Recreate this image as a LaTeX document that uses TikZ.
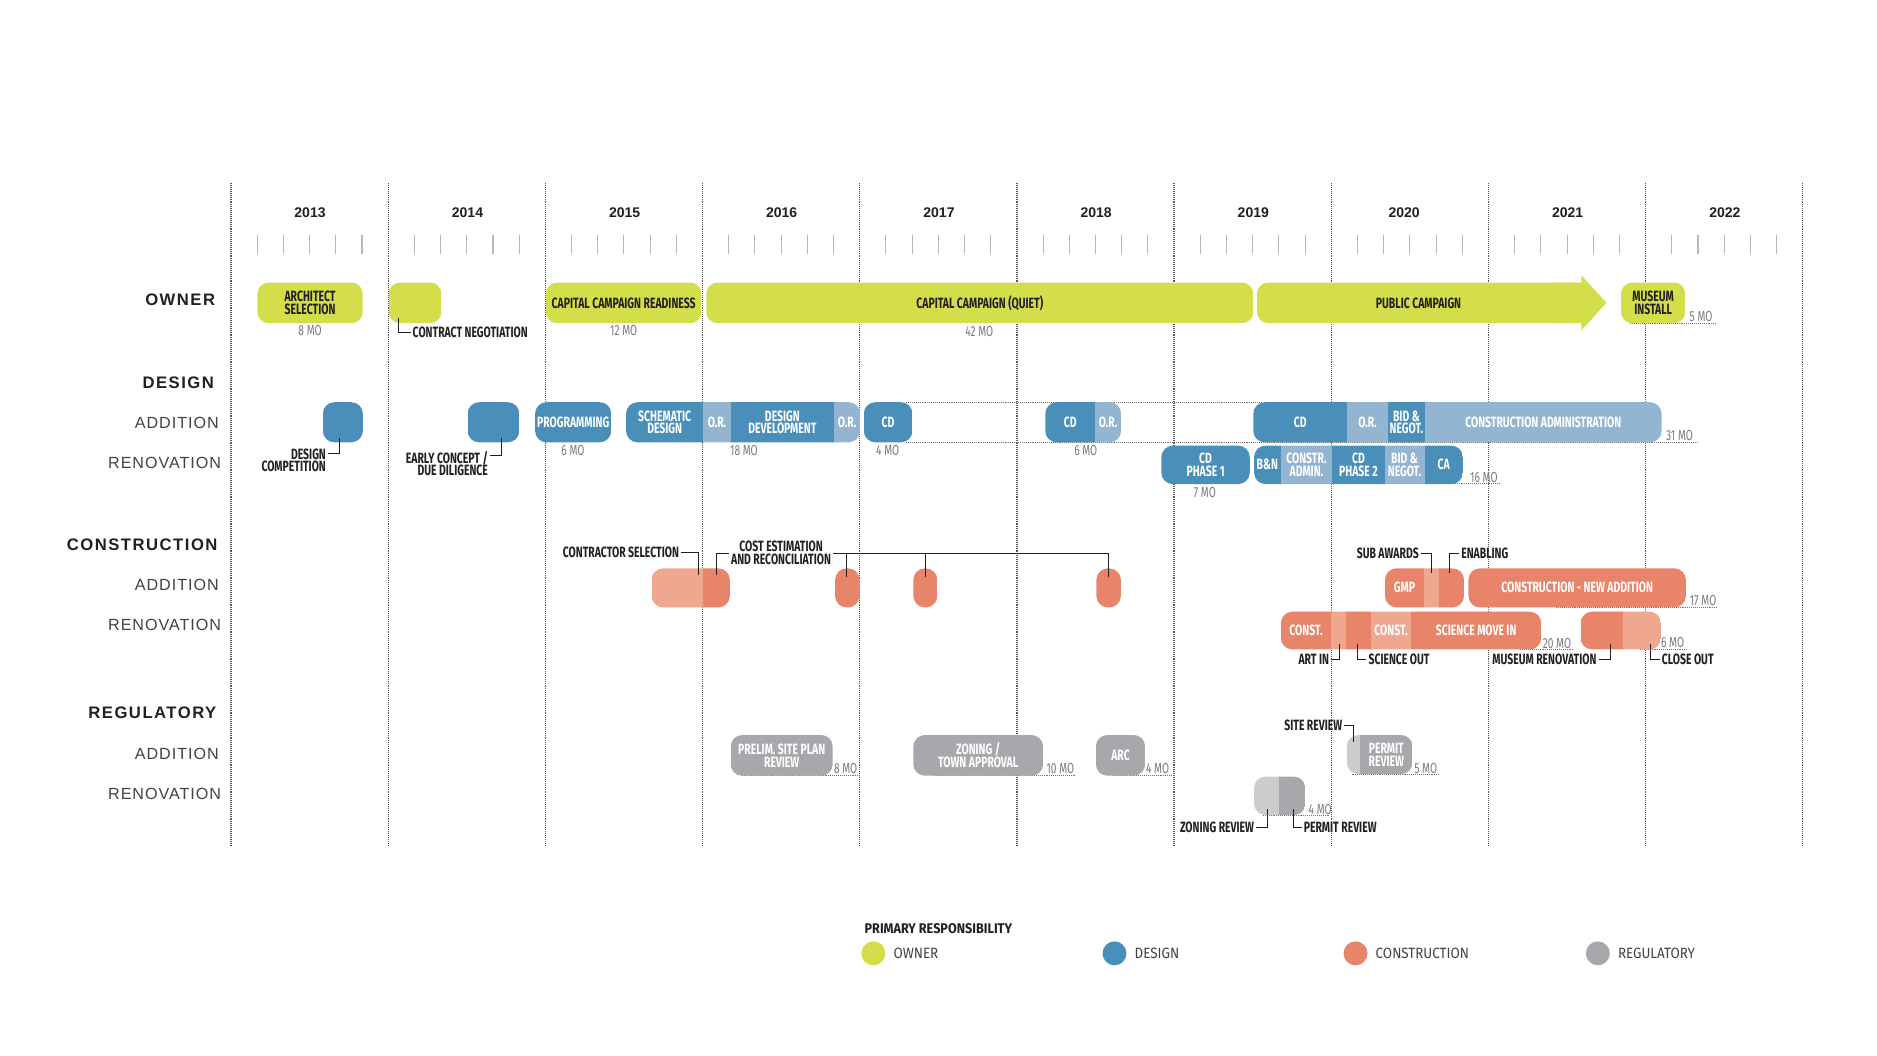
\documentclass[tikz,border=0pt]{standalone}
\usepackage{fontspec}
\setmainfont{Liberation Sans}
\newfontfamily\cnd[FakeStretch=0.7]{Fira Sans}
\newfontfamily\lgd[FakeStretch=0.9]{Fira Sans}
\usetikzlibrary{positioning,calc}
\definecolor{ink}{HTML}{231F20}
\definecolor{own}{HTML}{D3DE4A}
\definecolor{dsg}{HTML}{4A8FBA}
\definecolor{dsgl}{HTML}{93B5D2}
\definecolor{con}{HTML}{E8846A}
\definecolor{conl}{HTML}{F0A790}
\definecolor{reg}{HTML}{A6A8AB}
\definecolor{regl}{HTML}{CACCCE}
\definecolor{mogray}{HTML}{7A7A7A}
\newcommand{\barf}{\cnd\bfseries\fontsize{8.5}{7.3}\selectfont}
\newcommand{\mof}{\cnd\fontsize{8.3}{8}\selectfont}
\newcommand{\headf}{\bfseries\fontsize{9.5}{10}\selectfont\addfontfeature{LetterSpace=9}}
\newcommand{\rowf}{\fontsize{9.2}{10}\selectfont\addfontfeature{LetterSpace=6}}
\newcommand{\yearf}{\bfseries\fontsize{8}{9}\selectfont}
% one bar segment: name, x from, x to, y centre, style, text
\newcommand{\seg}[6]{\node[seg, #5, minimum width={(#3-#2)*0.24mm}] (#1) at ({(#2+#3)/2},#4) {#6};}

\begin{document}
\begin{tikzpicture}[x=0.24mm, y=-0.24mm,
  yline/.style={draw=black!65, line width=0.7pt, dash pattern=on 0.55pt off 0.55pt},
  mtick/.style={draw=black!28, line width=0.6pt},
  rail/.style={draw=black!55, line width=0.6pt, dash pattern=on 0.5pt off 0.6pt},
  seg/.style={inner sep=0pt, minimum height=40*0.24mm, text=white, align=center, font=\barf},
  call/.style={font=\barf, text=ink, inner sep=1pt},
  lead/.style={draw=ink, line width=0.6pt},
  mo/.style={font=\mof, text=mogray, inner sep=0pt},
  grouplbl/.style={font=\headf, text=ink, anchor=east, inner sep=0pt},
  rowlbl/.style={font=\rowf, text=ink!85, anchor=east, inner sep=0pt},
  swatch/.style={circle, minimum size=20*0.24mm, inner sep=0pt},
  keytxt/.style={font=\lgd\fontsize{8.5}{9}\selectfont, text=ink!85, inner sep=0pt},
]
\fill[white] (0,0) rectangle (1568,882);
\useasboundingbox (0,0) rectangle (1568,882);
% -- years, grid and ticks
\foreach \k in {0,...,10}
  \draw[yline] ({193+131.3*\k},153) -- ({193+131.3*\k},706);
\foreach \k in {0,...,9}
  \foreach \j in {1,...,5}
    \draw[mtick] ({193+131.3*\k+21.88*\j},196) -- ++(0,16);
\foreach \yr/\xc in {2013/259,2014/390.5,2015/521.8,2016/653,2017/784.4,2018/915.7,2019/1047,2020/1173,2021/1309.6,2022/1440.9}
  \node[font=\yearf, text=ink] (y\yr) at (\xc,178) {\yr};
% -- row labels
\node[grouplbl] (gown) at (180,250) {OWNER};
\node[grouplbl] (gdsg) at (179,320) {DESIGN};
\node[rowlbl] (dadd) at (183,353) {ADDITION};
\node[rowlbl] (dren) at (185,387) {RENOVATION};
\node[grouplbl] (gcon) at (182,455) {CONSTRUCTION};
\node[rowlbl] (cadd) at (183,489) {ADDITION};
\node[rowlbl] (cren) at (185,522) {RENOVATION};
\node[grouplbl] (greg) at (181,595) {REGULATORY};
\node[rowlbl] (radd) at (183,630) {ADDITION};
\node[rowlbl] (rren) at (185,663) {RENOVATION};
% -- dotted rails and month underlines
\draw[rail] (757,336) -- (1054,336);
\draw[rail] (757,369.5) -- (1418,369.5);
\draw[rail] (1059,404) -- (1252.6,404);
\draw[rail] (1362,270) -- (1434,270);
\draw[rail] (1300,507.4) -- (1434,507.4);
\draw[rail] (1270,542.5) -- (1314,542.5);
\draw[rail] (1370,542.5) -- (1410,542.5);
\draw[rail] (619.5,648) -- (718.7,648);
\draw[rail] (780,648) -- (897.7,648);
\draw[rail] (930,648) -- (980,648);
\draw[rail] (1129,646.6) -- (1203,646.6);
\draw[rail] (1055,680.9) -- (1111,680.9);
% -- owner
\begin{scope}
  \clip[rounded corners=2.3mm] (215,236) rectangle (303,270) (324.6,236) rectangle (368.8,270)
    (456,236) rectangle (586,270) (590,236) rectangle (1047,270) (1354,236) rectangle (1408,270);
  \seg{asel}{215}{303}{253}{fill=own, text=ink}{ARCHITECT\\SELECTION}
  \seg{cneg}{324.6}{368.8}{253}{fill=own}{}
  \seg{ccr}{456}{586}{253}{fill=own, text=ink}{CAPITAL CAMPAIGN READINESS}
  \seg{ccq}{590}{1047}{253}{fill=own, text=ink}{CAPITAL CAMPAIGN (QUIET)}
  \seg{minst}{1354}{1408}{253}{fill=own, text=ink}{MUSEUM\\INSTALL}
\end{scope}
\fill[own, rounded corners=2.3mm] (1050,236) rectangle (1321,270);
\fill[own] (1300,236) -- (1321,236) -- (1321,230) -- (1342,253) -- (1321,276) -- (1321,270) -- (1300,270) -- cycle;
\node[font=\barf, text=ink] (pub) at (1185,253) {PUBLIC CAMPAIGN};
% -- design, addition
\begin{scope}
  \clip[rounded corners=2.3mm] (269.7,336) rectangle (303.1,369.5) (390.6,336) rectangle (433.8,369.5)
    (447,336) rectangle (510.6,369.5) (523,336) rectangle (718.5,369.5) (721.6,336) rectangle (762.2,369.5)
    (873.2,336) rectangle (936.5,369.5) (1047,336) rectangle (1388,369.5);
  \seg{dcomp}{269.7}{303.1}{352.75}{fill=dsg}{}
  \seg{econ}{390.6}{433.8}{352.75}{fill=dsg}{}
  \seg{prog}{447}{510.6}{352.75}{fill=dsg}{PROGRAMMING}
  \seg{sd}{523}{587.5}{352.75}{fill=dsg}{SCHEMATIC\\DESIGN}
  \seg{or1}{587.5}{610.4}{352.75}{fill=dsgl}{O.R.}
  \seg{dd}{610.4}{696.8}{352.75}{fill=dsg}{DESIGN\\DEVELOPMENT}
  \seg{or2}{696.8}{718.5}{352.75}{fill=dsgl}{O.R.}
  \seg{cd1}{721.6}{762.2}{352.75}{fill=dsg}{CD}
  \seg{cd2}{873.2}{914.8}{352.75}{fill=dsg}{CD}
  \seg{or3}{914.8}{936.5}{352.75}{fill=dsgl}{O.R.}
  \seg{cd3}{1047}{1125.3}{352.75}{fill=dsg}{CD}
  \seg{or4}{1125.3}{1159.4}{352.75}{fill=dsgl}{O.R.}
  \seg{bn1}{1159.4}{1190.3}{352.75}{fill=dsg}{BID \&\\NEGOT.}
  \seg{ca1}{1190.3}{1388}{352.75}{fill=dsgl}{CONSTRUCTION ADMINISTRATION}
\end{scope}
% -- design, renovation
\begin{scope}
  \clip[rounded corners=2.3mm] (970.2,372.3) rectangle (1044,404.4) (1047.6,372.3) rectangle (1222,404.4);
  \seg{cdp1}{970.2}{1044}{388.3}{fill=dsg}{CD\\PHASE 1}
  \seg{bnn}{1047.6}{1069.7}{388.3}{fill=dsg}{B\&N}
  \seg{cad}{1069.7}{1113}{388.3}{fill=dsgl}{CONSTR.\\ADMIN.}
  \seg{cdp2}{1113}{1156.6}{388.3}{fill=dsg}{CD\\PHASE 2}
  \seg{bn2}{1156.6}{1190}{388.3}{fill=dsgl}{BID \&\\NEGOT.}
  \seg{ca2}{1190}{1222}{388.3}{fill=dsg}{CA}
\end{scope}
% -- construction, addition
\begin{scope}
  \clip[rounded corners=2.3mm] (544.3,474.8) rectangle (609.7,507.4) (697.6,474.8) rectangle (718,507.4)
    (763,474.8) rectangle (783,507.4) (915.9,474.8) rectangle (936.3,507.4)
    (1157,474.8) rectangle (1223,507.4) (1226.7,474.8) rectangle (1408.3,507.4);
  \seg{csl}{544.3}{587.6}{491}{fill=conl}{}
  \seg{csd}{587.6}{609.7}{491}{fill=con}{}
  \seg{p1}{697.6}{718}{491}{fill=con}{}
  \seg{p2}{763}{783}{491}{fill=con}{}
  \seg{p3}{915.9}{936.3}{491}{fill=con}{}
  \seg{gmp}{1157}{1189.6}{491}{fill=con}{GMP}
  \seg{sa}{1189.6}{1202}{491}{fill=conl}{}
  \seg{en}{1202}{1223}{491}{fill=con}{}
  \seg{cna}{1226.7}{1408.3}{491}{fill=con}{CONSTRUCTION - NEW ADDITION}
\end{scope}
% -- construction, renovation
\begin{scope}
  \clip[rounded corners=2.3mm] (1070,511) rectangle (1287.5,542.5) (1320.4,511) rectangle (1387.5,542.5);
  \seg{c1}{1070}{1112}{526.8}{fill=con}{CONST.}
  \seg{ai}{1112}{1124.7}{526.8}{fill=conl}{}
  \seg{so}{1124.7}{1145.2}{526.8}{fill=con}{}
  \seg{c2}{1145.2}{1178.8}{526.8}{fill=conl}{CONST.}
  \seg{smi}{1178.8}{1287.5}{526.8}{fill=con}{SCIENCE MOVE IN}
  \seg{mr}{1320.4}{1355.6}{526.8}{fill=con}{}
  \seg{co}{1355.6}{1387.5}{526.8}{fill=conl}{}
\end{scope}
% -- regulatory
\begin{scope}
  \clip[rounded corners=2.3mm] (610.4,614) rectangle (695.6,648) (763,614) rectangle (871.3,648)
    (915.5,614) rectangle (956.6,648) (1125,614) rectangle (1180,646.6)
    (1047.6,648.8) rectangle (1090.5,680.9);
  \seg{psp}{610.4}{695.6}{631}{fill=reg}{PRELIM. SITE PLAN\\REVIEW}
  \seg{zta}{763}{871.3}{631}{fill=reg}{ZONING /\\TOWN APPROVAL}
  \seg{arc}{915.5}{956.6}{631}{fill=reg}{ARC}
  \seg{sr}{1125}{1136.2}{630.3}{fill=regl}{}
  \seg{pr}{1136.2}{1180}{630.3}{fill=reg}{PERMIT\\REVIEW}
  \seg{zr}{1047.6}{1068.8}{665}{fill=regl}{}
  \seg{prr}{1068.8}{1090.5}{665}{fill=reg}{}
\end{scope}
% -- durations
\node[mo] (m1) at (259,276) {8 MO};
\node[mo] (m2) at (521,276) {12 MO};
\node[mo] (m3) at (818,277) {42 MO};
\node[mo] (m4) at (1421,264) {5 MO};
\node[mo] (m5) at (478.6,376) {6 MO};
\node[mo] (m6) at (621.5,376) {18 MO};
\node[mo] (m7) at (741.5,376) {4 MO};
\node[mo] (m8) at (907,376) {6 MO};
\node[mo] (m9) at (1403,363.4) {31 MO};
\node[mo] (m10) at (1006.4,411.6) {7 MO};
\node[mo] (m11) at (1239.6,399) {16 MO};
\node[mo] (m12) at (1422.7,502) {17 MO};
\node[mo] (m13) at (1300.6,537.4) {20 MO};
\node[mo] (m14) at (1397.2,537) {6 MO};
\node[mo] (m15) at (706.4,642) {8 MO};
\node[mo] (m16) at (885.8,642) {10 MO};
\node[mo] (m17) at (967,642) {4 MO};
\node[mo] (m18) at (1191,642) {5 MO};
\node[mo] (m19) at (1102.8,675.8) {4 MO};
% -- callouts
\coordinate (cnegL) at (333,266);
\node[call, anchor=west] (lcneg) at (343,278) {CONTRACT NEGOTIATION};
\draw[lead] (cnegL) |- (lcneg.west);
\coordinate (dcompL) at (284,366);
\node[call, anchor=north east, align=right] (ldcomp) at (274,373) {DESIGN\\COMPETITION};
\draw[lead] (dcompL) |- ($(ldcomp.north east)+(0,5.5)$);
\coordinate (econL) at (418.9,366);
\node[call, anchor=north east, align=right] (lecon) at (409.4,375) {EARLY CONCEPT /\\DUE DILIGENCE};
\draw[lead] (econL) |- ($(lecon.north east)+(0,5.4)$);
\coordinate (cselL) at (583.6,480);
\node[call, anchor=east] (lcsel) at (569,461.4) {CONTRACTOR SELECTION};
\draw[lead] (lcsel.east) -| (cselL);
\coordinate (costL) at (598.5,480);
\node[call, anchor=west, align=center] (lcost) at (609,462) {COST ESTIMATION\\AND RECONCILIATION};
\draw[lead] (costL) |- (lcost.west);
\coordinate (p1L) at (707.5,482);
\coordinate (p2L) at (773.2,482);
\coordinate (p3L) at (926.1,482);
\draw[lead] (lcost.east) -| (p3L);
\draw[lead] (p1L) -- (p1L |- lcost.east);
\draw[lead] (p2L) -- (p2L |- lcost.east);
\coordinate (subL) at (1196,479);
\node[call, anchor=east] (lsub) at (1187,462.3) {SUB AWARDS};
\draw[lead] (lsub.east) -| (subL);
\coordinate (enaL) at (1211,479);
\node[call, anchor=west] (lena) at (1219,462) {ENABLING};
\draw[lead] (enaL) |- (lena.west);
\coordinate (artL) at (1118.7,538);
\node[call, anchor=east] (lart) at (1112,551) {ART IN};
\draw[lead] (artL) |- (lart.east);
\coordinate (sciL) at (1133.7,538);
\node[call, anchor=west] (lsci) at (1141.5,551) {SCIENCE OUT};
\draw[lead] (sciL) |- (lsci.west);
\coordinate (mrL) at (1345,538);
\node[call, anchor=east] (lmr) at (1335.4,551) {MUSEUM RENOVATION};
\draw[lead] (mrL) |- (lmr.east);
\coordinate (coL) at (1379,538);
\node[call, anchor=west] (lco) at (1386.6,551) {CLOSE OUT};
\draw[lead] (coL) |- (lco.west);
\coordinate (siteL) at (1131,620);
\node[call, anchor=east] (lsite) at (1123,606) {SITE REVIEW};
\draw[lead] (lsite.east) -| (siteL);
\coordinate (zrL) at (1058.7,676);
\node[call, anchor=east] (lzr) at (1049.3,691) {ZONING REVIEW};
\draw[lead] (zrL) |- (lzr.east);
\coordinate (prL) at (1080.5,676);
\node[call, anchor=west] (lpr) at (1087.4,691) {PERMIT REVIEW};
\draw[lead] (prL) |- (lpr.west);
% -- legend
\node[font=\lgd\bfseries\fontsize{8}{9}\selectfont, text=ink, anchor=west, inner sep=0pt] (lgtitle) at (722,775.5) {PRIMARY RESPONSIBILITY};
\node[swatch, fill=own] (kown) at (729.6,796.4) {};
\node[swatch, fill=dsg] (kdsg) at (931,796.4) {};
\node[swatch, fill=con] (kcon) at (1132.4,796.4) {};
\node[swatch, fill=reg] (kreg) at (1334.8,796.4) {};
\node[keytxt, right=1.5mm of kown] (town) {OWNER};
\node[keytxt, right=1.5mm of kdsg] (tdsg) {DESIGN};
\node[keytxt, right=1.5mm of kcon] (tcon) {CONSTRUCTION};
\node[keytxt, right=1.5mm of kreg] (treg) {REGULATORY};
\end{tikzpicture}
\end{document}
